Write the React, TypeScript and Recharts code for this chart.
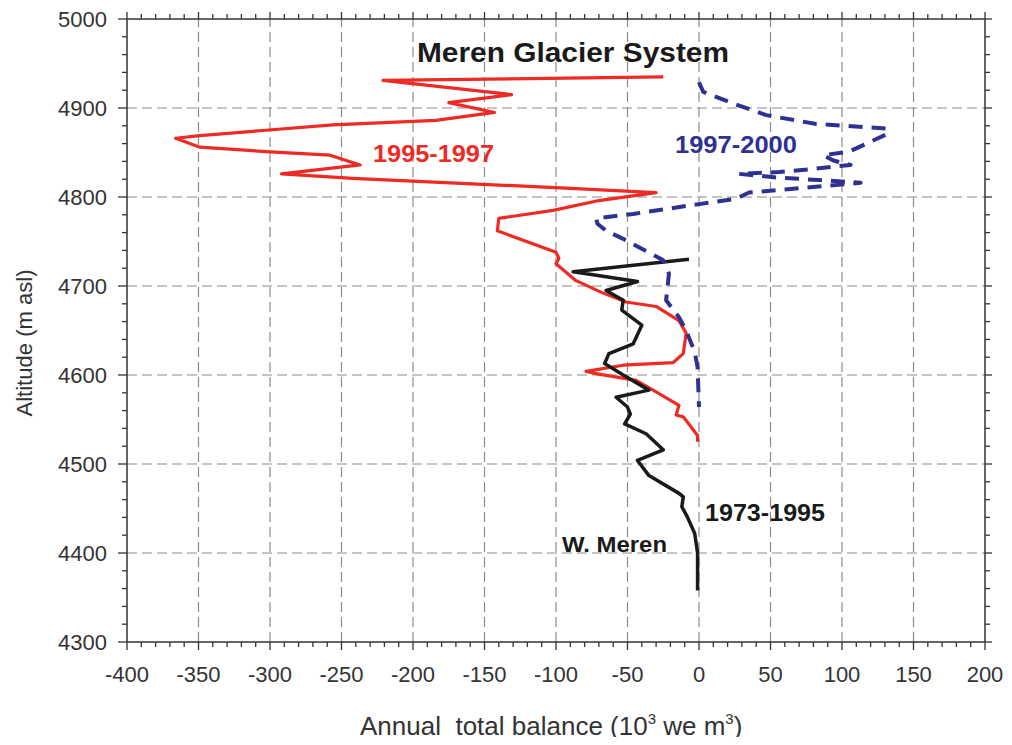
import React from 'react';
import { LineChart, Line, XAxis, YAxis, ReferenceLine } from 'recharts';

// ---- axis ticks ----
const xMajorTicks = [-400, -350, -300, -250, -200, -150, -100, -50, 0, 50, 100, 150, 200];
const yMajorTicks = [4300, 4400, 4500, 4600, 4700, 4800, 4900, 5000];
const xMinorStep = 10;
const yMinorStep = 20;

// ---- series: 1995-1997 (red) ----
const red1995Balance = [-25, -221, -131, -175, -143, -184, -256, -303, -349, -366, -349, -303, -258, -237, -292, -242, -93, -30, -70, -102, -140, -141, -100, -98, -100, -86, -67, -51, -30, -14, -9, -11, -18, -53, -79, -70, -44, -30, -14, -16, -11, -1, -1];
const red1995Altitude = [4935, 4931, 4915, 4906, 4895, 4886, 4881, 4875, 4869, 4866, 4856, 4851, 4847, 4836, 4826, 4821, 4810, 4805, 4796, 4785, 4776, 4762, 4738, 4731, 4725, 4706, 4692, 4682, 4677, 4661, 4647, 4624, 4614, 4611, 4604, 4601, 4594, 4581, 4566, 4555, 4553, 4532, 4525];

// ---- series: 1997-2000 (blue dashed) ----
const blue1997Balance = [0, 3, 24, 47, 82, 131, 132, 105, 87, 94, 106, 70, 56, 28, 54, 84, 113, 56, 35, 26, 0, -46, -72, -71, -65, -53, -25, -21, -23, -14, -9, -3, -1, 0];
const blue1997Altitude = [4929, 4918, 4905, 4892, 4882, 4877, 4871, 4851, 4847, 4841, 4836, 4830, 4828, 4826, 4822, 4819, 4816, 4808, 4805, 4798, 4792, 4781, 4776, 4770, 4762, 4753, 4729, 4714, 4684, 4665, 4650, 4626, 4609, 4564];

// ---- series: 1973-1995 W. Meren (black) ----
const black1973Balance = [-7, -88, -43, -65, -53, -54, -40, -46, -63, -66, -53, -35, -58, -50, -48, -52, -37, -25, -43, -35, -14, -11, -12, -8, -3, -1, -1];
const black1973Altitude = [4730, 4716, 4705, 4695, 4684, 4673, 4656, 4635, 4624, 4613, 4600, 4583, 4575, 4564, 4556, 4545, 4534, 4516, 4504, 4487, 4467, 4463, 4452, 4440, 4422, 4400, 4358];

const zip = (xs: number[], ys: number[]) => xs.map((x, i) => ({ x, alt: ys[i] }));
const redData = zip(red1995Balance, red1995Altitude);
const blueData = zip(blue1997Balance, blue1997Altitude);
const blackData = zip(black1973Balance, black1973Altitude);

const range = (a: number, b: number, s: number) => {
  const out: number[] = [];
  for (let v = a; v <= b; v += s) out.push(v);
  return out;
};
const xAllTicks = range(xMajorTicks[0], xMajorTicks[xMajorTicks.length - 1], xMinorStep);
const yAllTicks = range(yMajorTicks[0], yMajorTicks[yMajorTicks.length - 1], yMinorStep);

const W = 996;
const H = 729;
const FONT = 'Liberation Sans, Arial, Helvetica, sans-serif';
const AXIS = '#333333';
const RED = '#EE2A24';
const BLUE = '#2E3192';
const BLACK = '#1A1A1A';
const GRID = '#8C8C8C';

const BottomTick = (p: any) => {
  const v = p.payload.value;
  const major = v % 50 === 0;
  return (
    <g>
      <line x1={p.x} x2={p.x} y1={p.y} y2={p.y + (major ? 8 : 5)} stroke={AXIS} strokeWidth={1.3} />
      {major && (
        <text x={p.x} y={p.y + 40} textAnchor="middle" fontSize={22} fill={AXIS} fontFamily={FONT}>
          {v}
        </text>
      )}
    </g>
  );
};
const TopTick = (p: any) => {
  const v = p.payload.value;
  const major = v % 50 === 0;
  return <line x1={p.x} x2={p.x} y1={p.y} y2={p.y - (major ? 7 : 5)} stroke={AXIS} strokeWidth={1.3} />;
};
const LeftTick = (p: any) => {
  const v = p.payload.value;
  const major = v % 100 === 0;
  return (
    <g>
      <line x1={p.x} x2={p.x - (major ? 9 : 5)} y1={p.y} y2={p.y} stroke={AXIS} strokeWidth={1.3} />
      {major && (
        <text x={p.x - 20} y={p.y + 7.5} textAnchor="end" fontSize={22} fill={AXIS} fontFamily={FONT}>
          {v}
        </text>
      )}
    </g>
  );
};
const RightTick = (p: any) => {
  const v = p.payload.value;
  const major = v % 100 === 0;
  return <line x1={p.x} x2={p.x + (major ? 7 : 5)} y1={p.y} y2={p.y} stroke={AXIS} strokeWidth={1.3} />;
};

export default function App() {
  return (
    <div style={{ position: 'relative', width: W, height: H }}>
      <LineChart width={W} height={H} margin={{ top: 0, right: 0, bottom: 35, left: 0 }}>
        <XAxis
          xAxisId="b"
          type="number"
          dataKey="x"
          domain={[-400, 200]}
          allowDataOverflow
          ticks={xAllTicks}
          interval={0}
          orientation="bottom"
          height={60}
          tickSize={0}
          tickMargin={0}
          tickLine={false}
          tick={(p: any) => <BottomTick {...p} />}
          axisLine={{ stroke: AXIS, strokeWidth: 1.5 }}
        />
        <XAxis
          xAxisId="t"
          type="number"
          dataKey="x"
          domain={[-400, 200]}
          allowDataOverflow
          ticks={xAllTicks}
          interval={0}
          orientation="top"
          height={11}
          tickSize={0}
          tickMargin={0}
          tickLine={false}
          tick={(p: any) => <TopTick {...p} />}
          axisLine={{ stroke: AXIS, strokeWidth: 1.5 }}
        />
        <YAxis
          yAxisId="l"
          type="number"
          domain={[4300, 5000]}
          allowDataOverflow
          ticks={yAllTicks}
          interval={0}
          orientation="left"
          width={119}
          tickSize={0}
          tickMargin={0}
          tickLine={false}
          tick={(p: any) => <LeftTick {...p} />}
          axisLine={{ stroke: AXIS, strokeWidth: 1.5 }}
        />
        <YAxis
          yAxisId="r"
          type="number"
          domain={[4300, 5000]}
          allowDataOverflow
          ticks={yAllTicks}
          interval={0}
          orientation="right"
          width={19}
          tickSize={0}
          tickMargin={0}
          tickLine={false}
          tick={(p: any) => <RightTick {...p} />}
          axisLine={{ stroke: AXIS, strokeWidth: 1.5 }}
        />
        {xMajorTicks.slice(1, -1).map((v) => (
          <ReferenceLine key={'gx' + v} xAxisId="b" yAxisId="l" x={v} stroke={GRID} strokeWidth={1.2} strokeDasharray="10 5" />
        ))}
        {yMajorTicks.slice(1, -1).map((v) => (
          <ReferenceLine key={'gy' + v} xAxisId="b" yAxisId="l" y={v} stroke={GRID} strokeWidth={1.2} strokeDasharray="10 5" />
        ))}
        <Line
          xAxisId="b"
          yAxisId="l"
          data={redData}
          dataKey="alt"
          type="linear"
          stroke={RED}
          strokeWidth={3.2}
          dot={false}
          strokeLinejoin="round"
          isAnimationActive={false}
        />
        <Line
          xAxisId="b"
          yAxisId="l"
          data={blackData}
          dataKey="alt"
          type="linear"
          stroke={BLACK}
          strokeWidth={3.5}
          dot={false}
          strokeLinejoin="round"
          isAnimationActive={false}
        />
        <Line
          xAxisId="b"
          yAxisId="l"
          data={blueData}
          dataKey="alt"
          type="linear"
          stroke={BLUE}
          strokeWidth={4}
          strokeDasharray="14 9"
          dot={false}
          strokeLinejoin="round"
          isAnimationActive={false}
        />
      </LineChart>
      <svg
        width={W}
        height={H}
        style={{ position: 'absolute', left: 0, top: 0, overflow: 'visible', pointerEvents: 'none' }}
      >
        <text x={409} y={54} fontSize={27} fontWeight="bold" fill={BLACK} fontFamily={FONT} textLength={312} lengthAdjust="spacingAndGlyphs">
          Meren Glacier System
        </text>
        <text x={365} y={154} fontSize={24} fontWeight="bold" fill={RED} fontFamily={FONT} textLength={121} lengthAdjust="spacingAndGlyphs">
          1995-1997
        </text>
        <text x={667} y={145} fontSize={24} fontWeight="bold" fill={BLUE} fontFamily={FONT} textLength={122} lengthAdjust="spacingAndGlyphs">
          1997-2000
        </text>
        <text x={697} y={513} fontSize={24} fontWeight="bold" fill={BLACK} fontFamily={FONT} textLength={120} lengthAdjust="spacingAndGlyphs">
          1973-1995
        </text>
        <text x={554} y={544} fontSize={22} fontWeight="bold" fill={BLACK} fontFamily={FONT} textLength={105} lengthAdjust="spacingAndGlyphs">
          W. Meren
        </text>
        <text x={352} y={727} fontSize={26} fill={AXIS} fontFamily={FONT} style={{ whiteSpace: 'pre' }}>
          {'Annual  total balance (10'}
          <tspan dy={-11} fontSize={15}>3</tspan>
          <tspan dy={11}>{' we m'}</tspan>
          <tspan dy={-11} fontSize={15}>3</tspan>
          <tspan dy={11}>)</tspan>
        </text>
        <text
          x={24}
          y={335}
          transform="rotate(-90 24 335)"
          textAnchor="middle"
          fontSize={22}
          fill={AXIS}
          fontFamily={FONT}
          textLength={147}
          lengthAdjust="spacingAndGlyphs"
        >
          Altitude (m asl)
        </text>
      </svg>
    </div>
  );
}
